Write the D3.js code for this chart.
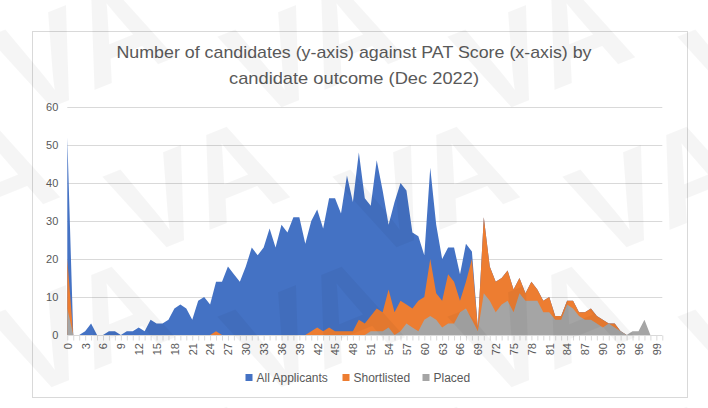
<!DOCTYPE html>
<html>
<head>
<meta charset="utf-8">
<script src="https://cdn.jsdelivr.net/npm/d3@7"></script>
<style>
  html, body { margin: 0; padding: 0; background: #ffffff; }
  svg { display: block; }
</style>
</head>
<body>
<svg id="chart" width="708" height="408"></svg>
<script>
// ---------------- DATA ----------------
const titleLines = ["Number of candidates (y-axis) against PAT Score (x-axis) by", "candidate outcome (Dec 2022)"];
const scores = d3.range(0, 101);
const seriesNames = ["All Applicants", "Shortlisted", "Placed"];
const allApplicants = [
  52,0,0,1,3,0,0,1,1,0,
  1,1,2,1,4,3,3,4,7,8,
  7,4,9,10,8,14,14,18,16,14,
  18,23,21,23,28,23,29,27,31,31,
  24,30,33,28,36,36,32,42,35,48,
  36,34,46,38,29,35,40,38,27,26,
  21,44,29,20,23,23,16,24,22,2,
  31,18,14,15,17,12,15,11,14,12,
  9,10,5,5,9,9,6,6,7,5,
  4,3,3,1,0,0,0,0,0,0,0
];
const shortlisted = [
  20,0,0,0,0,0,0,0,0,0,
  0,0,0,0,0,0,0,0,0,0,
  0,0,0,0,0,1,0,0,0,0,
  0,0,0,0,0,0,0,0,0,0,
  0,1,2,1,2,1,1,1,1,4,
  3,5,7,6,12,6,9,8,7,9,
  10,20,11,9,16,14,9,14,20,2,
  31,18,14,15,17,12,15,11,14,12,
  9,10,5,5,9,9,6,6,7,5,
  4,3,3,1,0,0,0,0,0,0,0
];
const placed = [
  7,0,0,0,0,0,0,0,0,0,
  0,0,0,0,0,0,0,0,0,0,
  0,0,0,0,0,0,0,0,0,0,
  0,0,0,0,0,0,0,0,0,0,
  0,0,0,0,0,0,0,0,0,0,
  0,1,1,1,2,0,1,3,2,1,
  4,5,4,2,3,3,6,7,4,1,
  11,9,6,8,9,6,11,9,9,9,
  6,6,4,4,8,7,5,4,4,3,
  2,3,2,1,0,1,1,4,0,0,0
];
const yTicks = [0, 10, 20, 30, 40, 50, 60];
const xTickLabels = d3.range(0, 100, 3);
const colors = ["#4472C4", "#ED7D31", "#A5A5A5"];

// ---------------- LAYOUT ----------------
const svg = d3.select("#chart");
const W = 708, H = 408;
const plot = { left: 67.3, right: 662.3, top: 107, bottom: 335 };
const font = "'Liberation Sans', Arial, sans-serif";

svg.append("rect").attr("width", W).attr("height", H).attr("fill", "#ffffff");

// chart border
svg.append("rect")
  .attr("x", 32.5).attr("y", 31.5).attr("width", 655).attr("height", 366)
  .attr("fill", "#ffffff").attr("stroke", "#d9d9d9").attr("stroke-width", 1);

const x = d3.scaleLinear().domain([0, 100]).range([plot.left, plot.right]);
const y = d3.scaleLinear().domain([0, 60]).range([plot.bottom, plot.top]);

// gridlines
svg.append("g").selectAll("line").data(yTicks.filter(d => d > 0)).join("line")
  .attr("x1", plot.left).attr("x2", plot.right)
  .attr("y1", d => Math.round(y(d)) + 0.5).attr("y2", d => Math.round(y(d)) + 0.5)
  .attr("stroke", "#d9d9d9").attr("stroke-width", 1);

// y axis labels
const yAxis = d3.axisLeft(y).tickValues(yTicks).tickSize(0).tickPadding(0);
const gy = svg.append("g").attr("transform", `translate(${plot.left - 9},0)`).call(yAxis);
gy.select(".domain").remove();
gy.selectAll("text").attr("font-family", font).attr("font-size", 11).attr("fill", "#595959");

// areas
const seriesData = [allApplicants, shortlisted, placed];
const area = d3.area()
  .x((d, i) => x(scores[i]))
  .y0(y(0))
  .y1(d => y(d));
seriesData.forEach((s, k) => {
  svg.append("path").datum(s).attr("d", area).attr("fill", colors[k]);
});

// x axis
const xAxisMinor = d3.axisBottom(x).tickValues(scores).tickSize(5).tickFormat("");
const gxm = svg.append("g").attr("transform", `translate(0,${plot.bottom + 0.5})`).call(xAxisMinor);
gxm.selectAll("line").attr("stroke", "#d9d9d9");
gxm.select(".domain").attr("stroke", "#d9d9d9").attr("d", `M${plot.left},0H${plot.right}`);

const xAxis = d3.axisBottom(x).tickValues(xTickLabels).tickSize(0).tickPadding(0);
const gx = svg.append("g").attr("transform", `translate(0,${plot.bottom})`).call(xAxis);
gx.select(".domain").remove();
gx.selectAll("text")
  .attr("font-family", font).attr("font-size", 11).attr("fill", "#595959")
  .attr("text-anchor", "end")
  .attr("dy", "0.35em")
  .attr("transform", "translate(0,8) rotate(-90)")
  .attr("x", 0).attr("y", 0);

// title
svg.append("g").selectAll("text").data(titleLines).join("text")
  .attr("x", 354).attr("y", (d, i) => 58 + i * 26)
  .attr("text-anchor", "middle")
  .attr("font-family", font).attr("font-size", 17).attr("fill", "#595959")
  .attr("textLength", (d, i) => i === 0 ? 475 : 250)
  .attr("lengthAdjust", "spacingAndGlyphs")
  .text(d => d);

// legend
const legendX = [245.5, 342.5, 422.5];
const lg = svg.append("g");
seriesNames.forEach((name, k) => {
  lg.append("rect").attr("x", legendX[k]).attr("y", 374).attr("width", 7).attr("height", 7).attr("fill", colors[k]);
  lg.append("text").attr("x", legendX[k] + 11).attr("y", 377.5).attr("dy", "0.35em")
    .attr("font-family", font).attr("font-size", 12).attr("fill", "#595959").text(name);
});

// watermark
const wm = svg.append("g").attr("pointer-events", "none");
const wmPos = [];
for (let r = -1; r < 4; r++) {
  for (let c = -1; c < 5; c++) {
    wmPos.push([c * 230 + (r % 2 === 0 ? 0 : 115) + 20, r * 140 + 120]);
  }
}
wm.selectAll("text").data(wmPos).join("text")
  .attr("transform", d => `translate(${d[0]},${d[1]}) rotate(-22)`)
  .attr("font-family", font).attr("font-weight", "bold").attr("font-size", 130)
  .attr("fill", "rgba(0,0,0,0.04)")
  .text("VA");
</script>
</body>
</html>
